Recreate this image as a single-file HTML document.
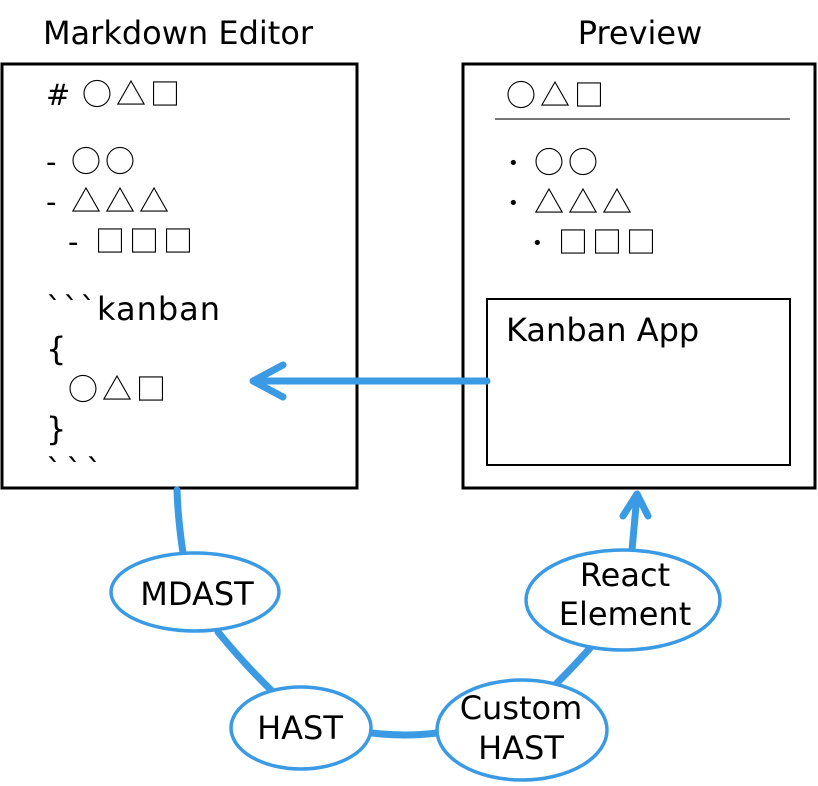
<!DOCTYPE html>
<html><head><meta charset="utf-8"><style>
html,body{margin:0;padding:0;background:#fff;}
svg{display:block;}
text{font-family:"DejaVu Sans","Liberation Sans","Noto Sans CJK JP",sans-serif;fill:#000;}
.g{font-family:"Noto Sans CJK JP",sans-serif;font-size:30px;letter-spacing:4px;}
</style></head><body>
<svg width="818" height="786" viewBox="0 0 818 786" xmlns="http://www.w3.org/2000/svg">
<text x="178" y="44" font-size="32" text-anchor="middle">Markdown Editor</text>
<text x="640" y="44" font-size="32" text-anchor="middle">Preview</text>
<rect x="2" y="64" width="355" height="424" fill="none" stroke="#000" stroke-width="3"/>
<rect x="463" y="64" width="352" height="424" fill="none" stroke="#000" stroke-width="3"/>
<rect x="487" y="299" width="303" height="166" fill="none" stroke="#000" stroke-width="2"/>
<line x1="495" y1="119" x2="790" y2="119" stroke="#777" stroke-width="2"/>
<text x="46" y="105" font-size="29">#</text><text x="82" y="105" class="g">○△□</text>
<text x="46" y="172" font-size="29">-</text><text x="71" y="172" class="g">○○</text>
<text x="46" y="212" font-size="29">-</text><text x="71" y="212" class="g">△△△</text>
<text x="68" y="252" font-size="29">-</text><text x="95" y="252" class="g">□□□</text>
<text x="46" y="320" font-size="32" letter-spacing="1">&#96;&#96;&#96;kanban</text>
<text x="46" y="360" font-size="32">{</text>
<text x="68" y="400" class="g">○△□</text>
<text x="46" y="440" font-size="32">}</text>
<text x="46" y="482" font-size="32" letter-spacing="4">&#96;&#96;&#96;</text>
<text x="506" y="106" class="g">○△□</text>
<text x="508" y="169" font-size="18">•</text><text x="534" y="173" class="g">○○</text>
<text x="508" y="209" font-size="18">•</text><text x="534" y="213" class="g">△△△</text>
<text x="532" y="249" font-size="18">•</text><text x="558" y="253" class="g">□□□</text>
<text x="506" y="341" font-size="32">Kanban App</text>
<g stroke="#3a9ae4" stroke-width="7" fill="none" stroke-linecap="round" stroke-linejoin="round">
<line x1="487" y1="381" x2="256" y2="381"/>
<polyline points="283,365 253,381 283,397"/>
<path d="M177,490 Q178,520 183,553"/>
<path d="M218,632 Q245,665 273,692"/>
<path d="M372,733 Q405,737 437,733"/>
<path d="M556,684 Q575,665 591,647"/>
<path d="M632,550 L637,495"/>
<polyline points="623,516 637,494 648,516"/>
</g>
<g fill="#fff" stroke="#3a9ae4" stroke-width="3.5">
<ellipse cx="195" cy="592" rx="84" ry="39"/>
<ellipse cx="301" cy="728" rx="70" ry="41"/>
<ellipse cx="522" cy="730" rx="85" ry="50"/>
<ellipse cx="623" cy="600" rx="97" ry="50"/>
</g>
<text x="197" y="605" font-size="32" text-anchor="middle">MDAST</text>
<text x="300" y="739" font-size="32" text-anchor="middle">HAST</text>
<text x="521" y="719" font-size="32" text-anchor="middle">Custom</text>
<text x="521" y="759" font-size="32" text-anchor="middle">HAST</text>
<text x="625" y="586" font-size="32" text-anchor="middle">React</text>
<text x="625" y="625" font-size="32" text-anchor="middle">Element</text>
</svg>
</body></html>
